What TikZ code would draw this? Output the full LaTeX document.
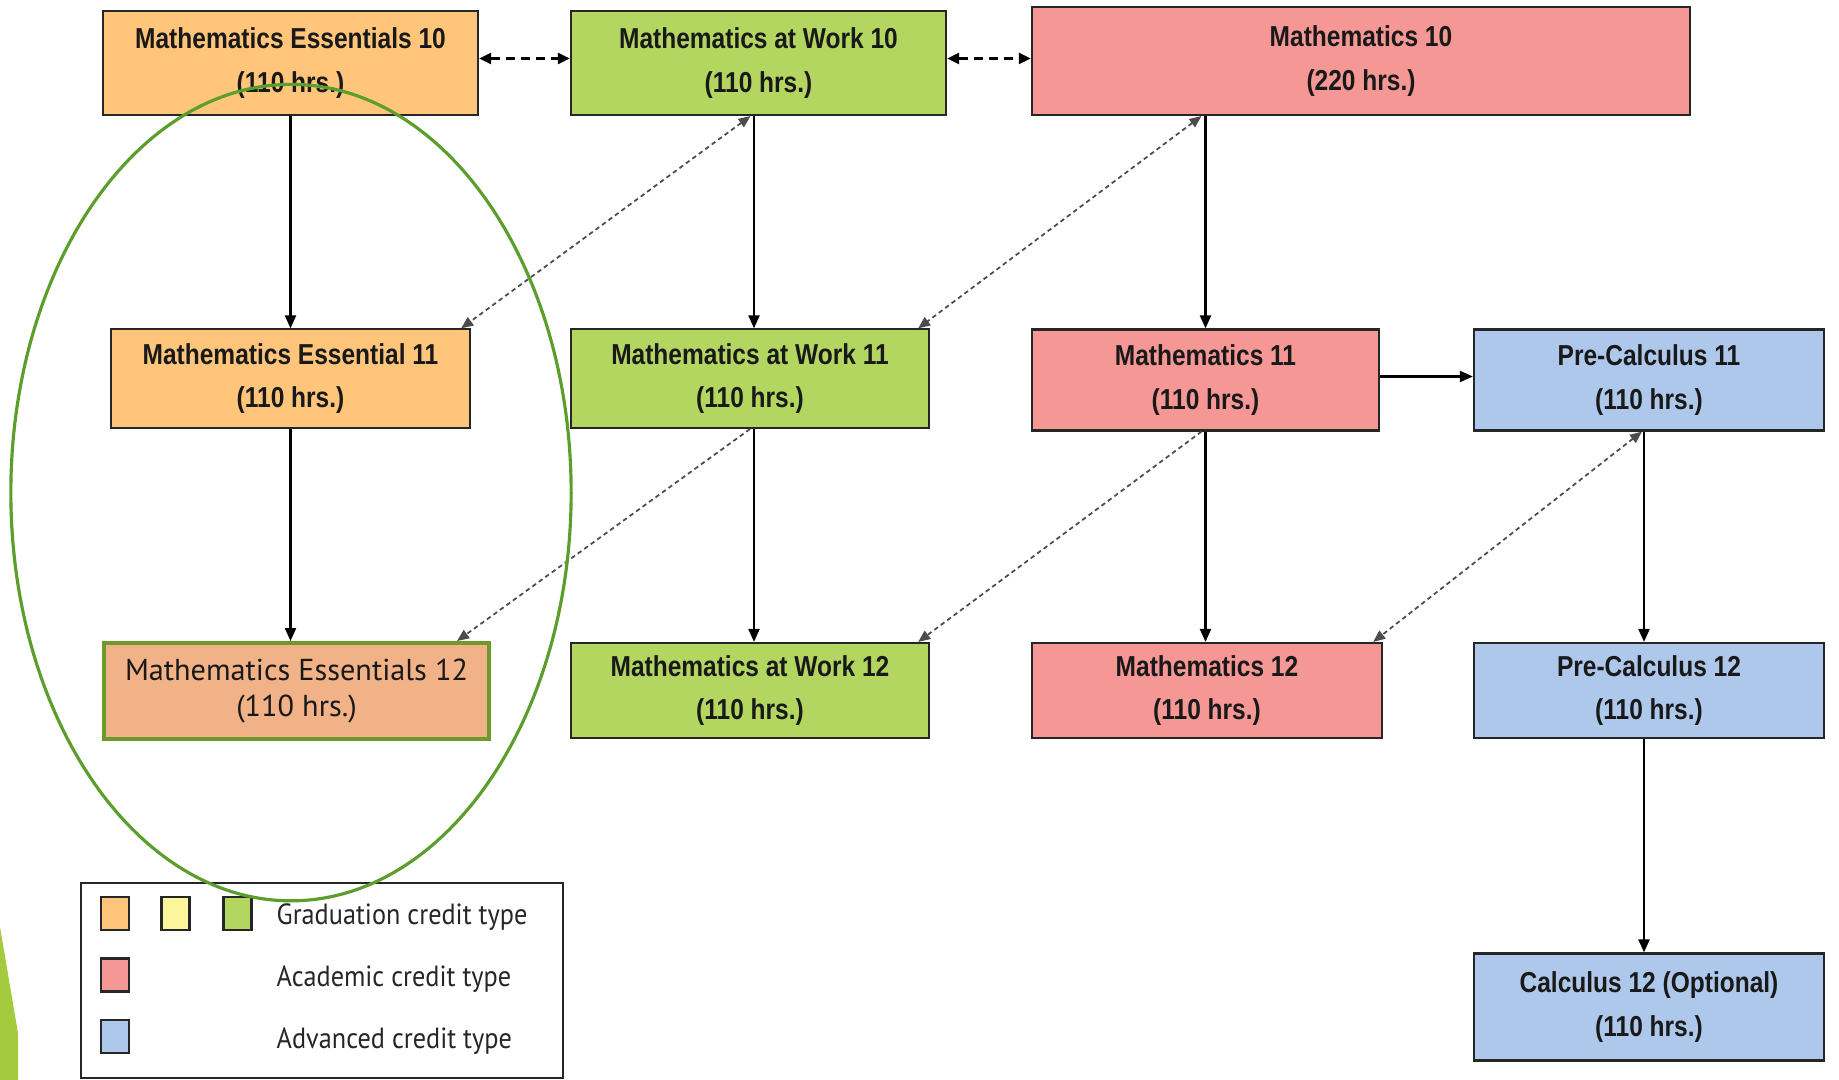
\documentclass[tikz,border=0pt]{standalone}
\usepackage{fontspec}
\setmainfont{Liberation Sans}[FakeStretch=0.85]
\newfontfamily\legendfont{PT Sans}[FakeStretch=0.9]
\newfontfamily\focusfont{PT Sans}
\usetikzlibrary{arrows.meta,positioning}

\definecolor{gradorange}{HTML}{FFC57A}
\definecolor{gradyellow}{HTML}{FBF59C}
\definecolor{gradgreen}{HTML}{B3D661}
\definecolor{academic}{HTML}{F49795}
\definecolor{advanced}{HTML}{ADC8EB}
\definecolor{essfocus}{HTML}{F0B286}
\definecolor{focusline}{HTML}{6E9A2B}
\definecolor{ringgreen}{HTML}{5C9E2C}
\definecolor{slidegreen}{HTML}{A4CB3E}

\tikzset{
  course/.style={draw=black!85, line width=0.6pt, inner sep=0pt, align=center,
    text=black!90, font=\fontsize{8.2}{12.4}\selectfont\bfseries},
  flow/.style={-{Triangle[length=1.3mm,width=1.1mm]}, line width=0.6pt},
  sidelink/.style={{Triangle[length=1.2mm,width=1.1mm]}-{Triangle[length=1.2mm,width=1.1mm]},
    line width=0.7pt, dash pattern=on 0.9mm off 0.6mm},
  crosslink/.style={-{Triangle[length=1.2mm,width=1mm]}, black!70, line width=0.5pt,
    dash pattern=on 0.45mm off 0.35mm},
  swatch/.style={draw=black!85, line width=0.6pt, minimum width=0.28cm, minimum height=0.33cm, inner sep=0pt},
  legendtext/.style={anchor=west, inner sep=0pt, text=black!85, font=\legendfont\fontsize{8.3}{10}\selectfont},
}

\begin{document}
\begin{tikzpicture}[x=0.01cm, y=-0.01cm]
      \useasboundingbox (0,0) rectangle (1839,1080);

      % Grade 10
      \node[course, fill=gradorange, minimum width=3.75cm, minimum height=1.04cm] (ess10) at (290.5,63) {Mathematics Essentials 10\\(110 hrs.)};
      \node[course, fill=gradgreen, minimum width=3.75cm, minimum height=1.04cm] (work10) at (758.5,63) {Mathematics at Work 10\\(110 hrs.)};
      \node[course, fill=academic, minimum width=6.58cm, minimum height=1.08cm] (math10) at (1361,61) {Mathematics 10\\(220 hrs.)};

      % Grade 11
      \node[course, fill=gradorange, minimum width=3.59cm, minimum height=0.985cm] (ess11) at (290.5,378.7) {Mathematics Essential 11\\(110 hrs.)};
      \node[course, fill=gradgreen, minimum width=3.58cm, minimum height=0.985cm] (work11) at (750,378.7) {Mathematics at Work 11\\(110 hrs.)};
      \node[course, fill=academic, minimum width=3.47cm, minimum height=1.01cm] (math11) at (1205.5,380) {Mathematics 11\\(110 hrs.)};
      \node[course, fill=advanced, minimum width=3.5cm, minimum height=1.01cm] (pre11) at (1649,380) {Pre-Calculus 11\\(110 hrs.)};

      % Grade 12
      \node[course, fill=essfocus, draw=focusline, line width=1.1pt, minimum width=3.85cm, minimum height=0.96cm,
        font=\focusfont\fontsize{8.6}{10.4}\selectfont] (ess12) at (296.5,691) {\raisebox{-0.6pt}{Mathematics Essentials 12}\\\raisebox{-0.6pt}{(110 hrs.)}};
      \node[course, fill=gradgreen, minimum width=3.58cm, minimum height=0.95cm] (work12) at (750,690.5) {Mathematics at Work 12\\(110 hrs.)};
      \node[course, fill=academic, minimum width=3.5cm, minimum height=0.95cm] (math12) at (1207,690.5) {Mathematics 12\\(110 hrs.)};
      \node[course, fill=advanced, minimum width=3.5cm, minimum height=0.95cm] (pre12) at (1649,690.5) {Pre-Calculus 12\\(110 hrs.)};
      \node[course, fill=advanced, minimum width=3.5cm, minimum height=1.07cm] (calc12) at (1649,1007) {Calculus 12 (Optional)\\(110 hrs.)};

      % Pathways down
      \draw[flow] (ess10.south) -- (ess11.north);
      \draw[flow] (ess11.south) -- (ess11.south |- ess12.north);
      \draw[flow] ([xshift=0.04cm]work11.north |- work10.south) -- ([xshift=0.04cm]work11.north);
      \draw[flow] ([xshift=0.04cm]work11.south) -- ([xshift=0.04cm]work12.north);
      \draw[flow] (math11.north |- math10.south) -- (math11.north);
      \draw[flow] (math11.south) -- (math11.south |- math12.north);
      \draw[flow] ([xshift=-0.05cm]pre11.south) -- ([xshift=-0.05cm]pre12.north);
      \draw[flow] ([xshift=-0.05cm]pre12.south) -- ([xshift=-0.05cm]calc12.north);
      \draw[flow] ([yshift=0.035cm]math11.east) -- ([yshift=0.035cm]math11.east -| pre11.west);

      % Transfers within grade 10
      \draw[sidelink] ([yshift=0.045cm]ess10.east) -- ([yshift=0.045cm]work10.west);
      \draw[sidelink] ([yshift=0.045cm]work10.east) -- ([yshift=0.045cm]work10.east -| math10.west);

      % Transfers between pathways
      \draw[crosslink, {Triangle[length=1.2mm,width=1mm]}-{Triangle[length=1.2mm,width=1mm]}] ([xshift=-0.08cm]work10.south) -- ([xshift=-0.1cm]ess11.north east);
      \draw[crosslink, {Triangle[length=1.2mm,width=1mm]}-{Triangle[length=1.2mm,width=1mm]}] ([xshift=-0.04cm]math11.north |- math10.south) -- ([xshift=-0.12cm]work11.north east);
      \draw[crosslink] (work11.south) -- ([xshift=-0.34cm]ess12.north east);
      \draw[crosslink] ([xshift=-0.04cm]math11.south) -- ([xshift=-0.12cm]work12.north east);
      \draw[crosslink, {Triangle[length=1.2mm,width=1mm]}-{Triangle[length=1.2mm,width=1mm]}] ([xshift=-0.07cm]pre11.south) -- ([xshift=-0.1cm]math12.north east);

      % Legend
      \draw[black!85, line width=0.6pt] (81,883) rectangle (563,1078);
      \node[swatch, fill=gradorange] (keyorange) at (115,913.5) {};
      \node[swatch, fill=gradyellow] (keyyellow) at (175.5,913.5) {};
      \node[swatch, fill=gradgreen] (keygreen) at (237.5,913.5) {};
      \node[swatch, fill=academic] (keyacad) at (115,975) {};
      \node[swatch, fill=advanced] (keyadv) at (115,1036.5) {};
      \node[legendtext] (gradlabel) at (276,917) {Graduation credit type};
      \node[legendtext] (acadlabel) at (276,979) {Academic credit type};
      \node[legendtext] (advlabel) at (276,1041) {Advanced credit type};

      % Focus ring
      \draw[ringgreen, line width=0.9pt] (291,492.6) ellipse [x radius=2.8cm, y radius=4.08cm];

      % Slide edge
      \fill[slidegreen] (0,927) -- (18,1033) -- (18,1080) -- (0,1080) -- cycle;
\end{tikzpicture}
\end{document}
